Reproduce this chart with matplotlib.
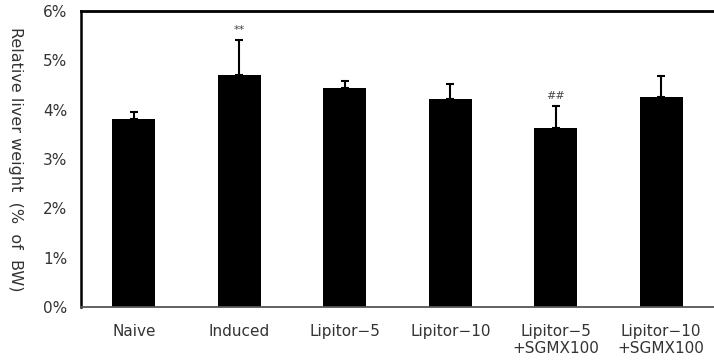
import matplotlib
matplotlib.use("Agg")
import matplotlib.pyplot as plt
import numpy as np

categories = ["Naive", "Induced", "Lipitor\u22125", "Lipitor\u221210",
              "Lipitor\u22125\n+SGMX100", "Lipitor\u221210\n+SGMX100"]
means = [3.81, 4.70, 4.43, 4.21, 3.63, 4.26]
errors = [0.14, 0.71, 0.16, 0.32, 0.44, 0.42]
marks = ["", "**", "", "", "##", ""]
yticks = [0, 1, 2, 3, 4, 5, 6]

plt.rcParams['font.family'] = ['DejaVu Sans']

fig = plt.figure(figsize=(7.14, 3.61), dpi=100)
ax = fig.add_axes([81/714, 54/361, 1 - 81/714, 296/361])

x = np.arange(len(categories))
ax.bar(x, means, width=0.41, color="black", zorder=2)
ax.errorbar(x, means, yerr=[np.zeros(len(errors)), errors], fmt="none",
            ecolor="black", elinewidth=1.5, capsize=3, capthick=1.5, zorder=3)

for xi, m, e, s in zip(x, means, errors, marks):
    if s:
        ax.annotate(s, (xi, m + e), xytext=(0, 4), textcoords="offset points",
                    ha="center", va="bottom", fontsize=8, color="#444444")

ax.set_xlim(-0.5, 5.5)
ax.set_ylim(0, 6)
ax.set_yticks(yticks)
ax.set_yticklabels([f"{t}%" for t in yticks])
ax.set_xticks(x)
ax.set_xticklabels(categories, linespacing=1.2)
ax.tick_params(axis="both", length=0, labelsize=11, colors="#333333")
ax.tick_params(axis="y", pad=10)
ax.tick_params(axis="x", pad=12)

ax.spines["right"].set_visible(False)
ax.spines["top"].set_linewidth(2)
ax.spines["left"].set_linewidth(1.8)
ax.spines["bottom"].set_color("#555555")
ax.spines["bottom"].set_linewidth(1.3)

fig.text(0.022, 54/361 + 148/361, "Relative liver weight  (%  of  BW)", rotation=270,
         ha="center", va="center", fontsize=11.5, color="#333333")

fig.savefig("out.png", dpi=100)
